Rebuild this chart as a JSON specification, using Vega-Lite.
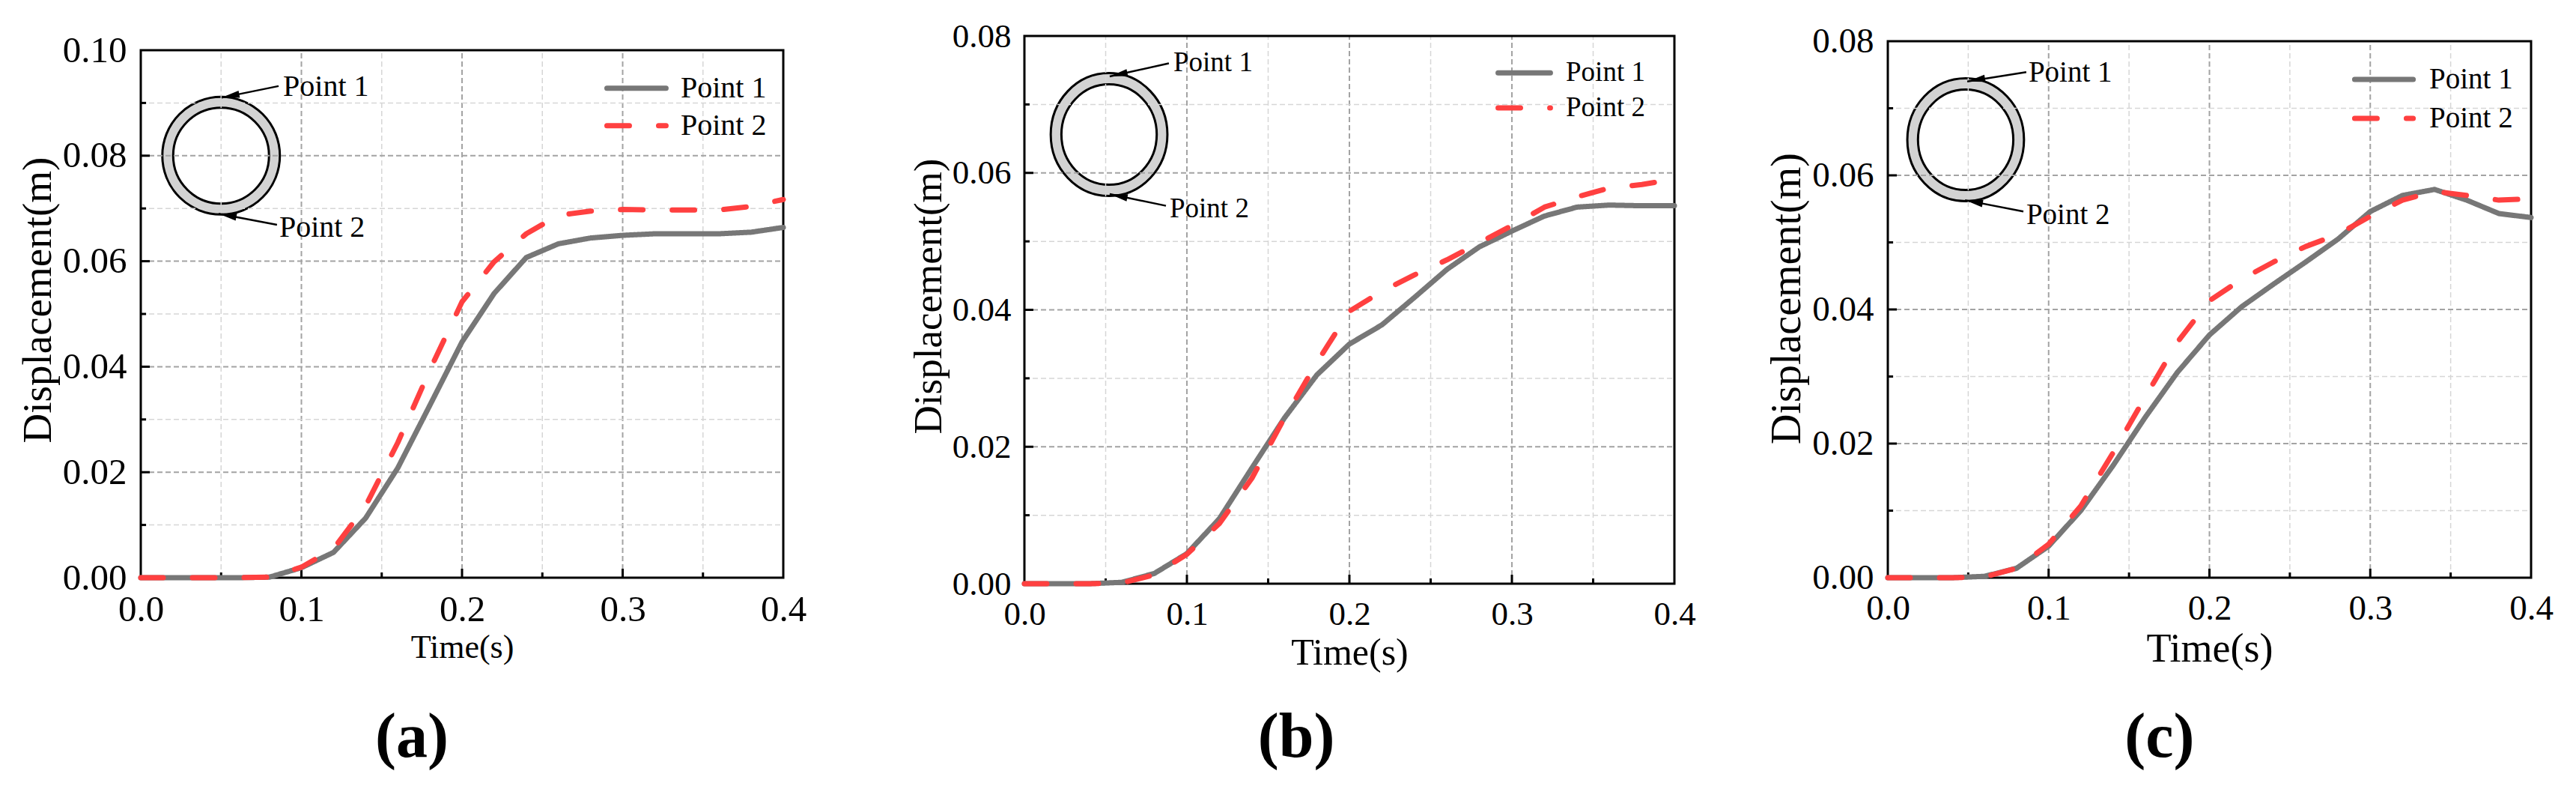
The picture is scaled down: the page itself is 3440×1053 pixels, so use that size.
{
"$schema": "https://vega.github.io/schema/vega-lite/v6.json",
"width": 3440, "height": 1053, "autosize": "none", "padding": 0, "background": "white",
"config": {"view": {"stroke": null}, "font": "Liberation Serif",
 "axis": {"labelColor": "black", "titleColor": "black", "labelFont": "Liberation Serif", "titleFont": "Liberation Serif", "titleFontWeight": "normal", "labelFlush": false, "labelOverlap": false, "domain": false, "ticks": false, "grid": false},
 "text": {"color": "black", "font": "Liberation Serif"}},
"datasets": {
 "xgrid": [{"t":0.05,"kind":"minor"},{"t":0.1,"kind":"major"},{"t":0.15,"kind":"minor"},{"t":0.2,"kind":"major"},{"t":0.25,"kind":"minor"},{"t":0.3,"kind":"major"},{"t":0.35,"kind":"minor"}],
 "ygrid_a": [{"t":0.01,"kind":"minor"},{"t":0.02,"kind":"major"},{"t":0.03,"kind":"minor"},{"t":0.04,"kind":"major"},{"t":0.05,"kind":"minor"},{"t":0.06,"kind":"major"},{"t":0.07,"kind":"minor"},{"t":0.08,"kind":"major"},{"t":0.09,"kind":"minor"}],
 "ygrid_bc": [{"t":0.01,"kind":"minor"},{"t":0.02,"kind":"major"},{"t":0.03,"kind":"minor"},{"t":0.04,"kind":"major"},{"t":0.05,"kind":"minor"},{"t":0.06,"kind":"major"},{"t":0.07,"kind":"minor"}],
 "lines_a": [
  {"t":0,"d":0,"s":"Point 1"},{"t":0.02,"d":0,"s":"Point 1"},{"t":0.04,"d":0,"s":"Point 1"},{"t":0.06,"d":0,"s":"Point 1"},{"t":0.08,"d":0.0001,"s":"Point 1"},{"t":0.1,"d":0.0019,"s":"Point 1"},{"t":0.12,"d":0.0048,"s":"Point 1"},{"t":0.14,"d":0.0113,"s":"Point 1"},{"t":0.16,"d":0.0208,"s":"Point 1"},{"t":0.18,"d":0.0327,"s":"Point 1"},{"t":0.2,"d":0.0447,"s":"Point 1"},{"t":0.22,"d":0.0539,"s":"Point 1"},{"t":0.24,"d":0.0607,"s":"Point 1"},{"t":0.26,"d":0.0633,"s":"Point 1"},{"t":0.28,"d":0.0644,"s":"Point 1"},{"t":0.3,"d":0.0649,"s":"Point 1"},{"t":0.32,"d":0.0652,"s":"Point 1"},{"t":0.34,"d":0.0652,"s":"Point 1"},{"t":0.36,"d":0.0652,"s":"Point 1"},{"t":0.38,"d":0.0655,"s":"Point 1"},{"t":0.4,"d":0.0664,"s":"Point 1"},
  {"t":0,"d":0,"s":"Point 2"},{"t":0.02,"d":0,"s":"Point 2"},{"t":0.04,"d":0,"s":"Point 2"},{"t":0.06,"d":0,"s":"Point 2"},{"t":0.08,"d":0.0001,"s":"Point 2"},{"t":0.1,"d":0.002,"s":"Point 2"},{"t":0.12,"d":0.0055,"s":"Point 2"},{"t":0.14,"d":0.0136,"s":"Point 2"},{"t":0.16,"d":0.0256,"s":"Point 2"},{"t":0.18,"d":0.0394,"s":"Point 2"},{"t":0.2,"d":0.0523,"s":"Point 2"},{"t":0.22,"d":0.0599,"s":"Point 2"},{"t":0.24,"d":0.0652,"s":"Point 2"},{"t":0.26,"d":0.0687,"s":"Point 2"},{"t":0.28,"d":0.0695,"s":"Point 2"},{"t":0.3,"d":0.0698,"s":"Point 2"},{"t":0.32,"d":0.0697,"s":"Point 2"},{"t":0.34,"d":0.0697,"s":"Point 2"},{"t":0.36,"d":0.0697,"s":"Point 2"},{"t":0.38,"d":0.0704,"s":"Point 2"},{"t":0.4,"d":0.0717,"s":"Point 2"}],
 "lines_b": [
  {"t":0,"d":0,"s":"Point 1"},{"t":0.02,"d":0,"s":"Point 1"},{"t":0.04,"d":0,"s":"Point 1"},{"t":0.06,"d":0.0002,"s":"Point 1"},{"t":0.08,"d":0.0015,"s":"Point 1"},{"t":0.1,"d":0.0044,"s":"Point 1"},{"t":0.12,"d":0.0095,"s":"Point 1"},{"t":0.14,"d":0.0169,"s":"Point 1"},{"t":0.16,"d":0.0242,"s":"Point 1"},{"t":0.18,"d":0.0305,"s":"Point 1"},{"t":0.2,"d":0.035,"s":"Point 1"},{"t":0.22,"d":0.0378,"s":"Point 1"},{"t":0.24,"d":0.0418,"s":"Point 1"},{"t":0.26,"d":0.0459,"s":"Point 1"},{"t":0.28,"d":0.0492,"s":"Point 1"},{"t":0.3,"d":0.0515,"s":"Point 1"},{"t":0.32,"d":0.0537,"s":"Point 1"},{"t":0.34,"d":0.055,"s":"Point 1"},{"t":0.36,"d":0.0553,"s":"Point 1"},{"t":0.38,"d":0.0552,"s":"Point 1"},{"t":0.4,"d":0.0552,"s":"Point 1"},
  {"t":0,"d":0,"s":"Point 2"},{"t":0.02,"d":0,"s":"Point 2"},{"t":0.04,"d":0,"s":"Point 2"},{"t":0.06,"d":0.0001,"s":"Point 2"},{"t":0.08,"d":0.0013,"s":"Point 2"},{"t":0.1,"d":0.0043,"s":"Point 2"},{"t":0.12,"d":0.0088,"s":"Point 2"},{"t":0.14,"d":0.0154,"s":"Point 2"},{"t":0.16,"d":0.0242,"s":"Point 2"},{"t":0.18,"d":0.0323,"s":"Point 2"},{"t":0.2,"d":0.0398,"s":"Point 2"},{"t":0.22,"d":0.0427,"s":"Point 2"},{"t":0.24,"d":0.0451,"s":"Point 2"},{"t":0.26,"d":0.0473,"s":"Point 2"},{"t":0.28,"d":0.0498,"s":"Point 2"},{"t":0.3,"d":0.0523,"s":"Point 2"},{"t":0.32,"d":0.055,"s":"Point 2"},{"t":0.34,"d":0.0565,"s":"Point 2"},{"t":0.36,"d":0.0578,"s":"Point 2"},{"t":0.38,"d":0.0583,"s":"Point 2"},{"t":0.4,"d":0.0591,"s":"Point 2"}],
 "lines_c": [
  {"t":0,"d":0,"s":"Point 1"},{"t":0.02,"d":0,"s":"Point 1"},{"t":0.04,"d":0,"s":"Point 1"},{"t":0.06,"d":0.0002,"s":"Point 1"},{"t":0.08,"d":0.0014,"s":"Point 1"},{"t":0.1,"d":0.0047,"s":"Point 1"},{"t":0.12,"d":0.01,"s":"Point 1"},{"t":0.14,"d":0.0167,"s":"Point 1"},{"t":0.16,"d":0.0239,"s":"Point 1"},{"t":0.18,"d":0.0306,"s":"Point 1"},{"t":0.2,"d":0.0362,"s":"Point 1"},{"t":0.22,"d":0.0404,"s":"Point 1"},{"t":0.24,"d":0.0438,"s":"Point 1"},{"t":0.26,"d":0.0471,"s":"Point 1"},{"t":0.28,"d":0.0505,"s":"Point 1"},{"t":0.3,"d":0.0546,"s":"Point 1"},{"t":0.32,"d":0.057,"s":"Point 1"},{"t":0.34,"d":0.0579,"s":"Point 1"},{"t":0.36,"d":0.0563,"s":"Point 1"},{"t":0.38,"d":0.0543,"s":"Point 1"},{"t":0.4,"d":0.0537,"s":"Point 1"},
  {"t":0,"d":0,"s":"Point 2"},{"t":0.02,"d":0,"s":"Point 2"},{"t":0.04,"d":0,"s":"Point 2"},{"t":0.06,"d":0.0001,"s":"Point 2"},{"t":0.08,"d":0.0014,"s":"Point 2"},{"t":0.1,"d":0.005,"s":"Point 2"},{"t":0.12,"d":0.0107,"s":"Point 2"},{"t":0.14,"d":0.0186,"s":"Point 2"},{"t":0.16,"d":0.0269,"s":"Point 2"},{"t":0.18,"d":0.0351,"s":"Point 2"},{"t":0.2,"d":0.0413,"s":"Point 2"},{"t":0.22,"d":0.0445,"s":"Point 2"},{"t":0.24,"d":0.0471,"s":"Point 2"},{"t":0.26,"d":0.0494,"s":"Point 2"},{"t":0.28,"d":0.0512,"s":"Point 2"},{"t":0.3,"d":0.0539,"s":"Point 2"},{"t":0.32,"d":0.0563,"s":"Point 2"},{"t":0.34,"d":0.0576,"s":"Point 2"},{"t":0.36,"d":0.057,"s":"Point 2"},{"t":0.38,"d":0.0563,"s":"Point 2"},{"t":0.4,"d":0.0565,"s":"Point 2"}]
},
"layer": [
 {"data": {"values": [{"t":0.05,"d":0.08}]}, "mark": {"type":"point","shape":"circle","size":24649,"filled":true,"fill":"#d3d3d3","stroke":"black","strokeWidth":3,"opacity":1},
  "encoding": {"x": {"field":"t","type":"quantitative","scale":{"domain":[0,0.4],"range":[188,1046],"nice":false,"zero":false},"axis":null},
   "y": {"field":"d","type":"quantitative","scale":{"domain":[0,0.1],"range":[771,67],"nice":false,"zero":false},"axis":null}}},
 {"data": {"values": [{"t":0.05,"d":0.08}]}, "mark": {"type":"point","shape":"circle","size":16384,"filled":true,"fill":"white","stroke":"black","strokeWidth":3,"opacity":1},
  "encoding": {"x": {"field":"t","type":"quantitative","scale":{"domain":[0,0.4],"range":[188,1046],"nice":false,"zero":false},"axis":null},
   "y": {"field":"d","type":"quantitative","scale":{"domain":[0,0.1],"range":[771,67],"nice":false,"zero":false},"axis":null}}},
 {"data": {"name": "xgrid"}, "mark": {"type":"rule","strokeDash":[7,4]},
  "encoding": {"x": {"field":"t","type":"quantitative","scale":{"domain":[0,0.4],"range":[188,1046],"nice":false,"zero":false},"axis":null},
   "y": {"datum":0,"type":"quantitative","scale":{"domain":[0,0.1],"range":[771,67],"nice":false,"zero":false},"axis":null},
   "y2": {"datum":0.1},
   "color": {"condition":{"test":"datum.kind==='major'","value":"#a3a3a3"},"value":"#d6d6d6"},
   "strokeWidth": {"condition":{"test":"datum.kind==='major'","value":2},"value":1.5}}},
 {"data": {"name": "ygrid_a"}, "mark": {"type":"rule","strokeDash":[7,4]},
  "encoding": {"y": {"field":"t","type":"quantitative","scale":{"domain":[0,0.1],"range":[771,67],"nice":false,"zero":false},"axis":null},
   "x": {"datum":0,"type":"quantitative","scale":{"domain":[0,0.4],"range":[188,1046],"nice":false,"zero":false},"axis":null},
   "x2": {"datum":0.4},
   "color": {"condition":{"test":"datum.kind==='major'","value":"#a3a3a3"},"value":"#d6d6d6"},
   "strokeWidth": {"condition":{"test":"datum.kind==='major'","value":2},"value":1.5}}},
 {"data": {"values": [{}]}, "mark": {"type":"rect","fill":"white","fillOpacity":0,"stroke":"black","strokeWidth":3},
  "encoding": {"x": {"datum":0,"type":"quantitative","scale":{"domain":[0,0.4],"range":[188,1046],"nice":false,"zero":false},"axis":null},
   "x2": {"datum":0.4},
   "y": {"datum":0,"type":"quantitative","scale":{"domain":[0,0.1],"range":[771,67],"nice":false,"zero":false},"axis":null},
   "y2": {"datum":0.1}}},
 {"data": {"name": "xgrid"}, "transform": [{"filter":"datum.kind==='major'"}], "mark": {"type":"rule","color":"black","strokeWidth":3},
  "encoding": {"x": {"field":"t","type":"quantitative","scale":{"domain":[0,0.4],"range":[188,1046],"nice":false,"zero":false},"axis":null},
   "y": {"datum":0,"type":"quantitative","scale":{"domain":[0,0.1],"range":[771,67],"nice":false,"zero":false},"axis":null},
   "y2": {"datum":0.0017}}},
 {"data": {"name": "xgrid"}, "transform": [{"filter":"datum.kind==='minor'"}], "mark": {"type":"rule","color":"black","strokeWidth":3},
  "encoding": {"x": {"field":"t","type":"quantitative","scale":{"domain":[0,0.4],"range":[188,1046],"nice":false,"zero":false},"axis":null},
   "y": {"datum":0,"type":"quantitative","scale":{"domain":[0,0.1],"range":[771,67],"nice":false,"zero":false},"axis":null},
   "y2": {"datum":0.001}}},
 {"data": {"name": "ygrid_a"}, "transform": [{"filter":"datum.kind==='major'"}], "mark": {"type":"rule","color":"black","strokeWidth":3},
  "encoding": {"y": {"field":"t","type":"quantitative","scale":{"domain":[0,0.1],"range":[771,67],"nice":false,"zero":false},"axis":null},
   "x": {"datum":0,"type":"quantitative","scale":{"domain":[0,0.4],"range":[188,1046],"nice":false,"zero":false},"axis":null},
   "x2": {"datum":0.0056}}},
 {"data": {"name": "ygrid_a"}, "transform": [{"filter":"datum.kind==='minor'"}], "mark": {"type":"rule","color":"black","strokeWidth":3},
  "encoding": {"y": {"field":"t","type":"quantitative","scale":{"domain":[0,0.1],"range":[771,67],"nice":false,"zero":false},"axis":null},
   "x": {"datum":0,"type":"quantitative","scale":{"domain":[0,0.4],"range":[188,1046],"nice":false,"zero":false},"axis":null},
   "x2": {"datum":0.0033}}},
 {"data": {"name": "lines_a"}, "mark": {"type":"line","strokeWidth":7,"strokeCap":"round","strokeJoin":"round"},
  "encoding": {"x": {"field":"t","type":"quantitative","scale":{"domain":[0,0.4],"range":[188,1046],"nice":false,"zero":false},
     "axis":{"orient":"bottom","offset":-282,"values":[0,0.1,0.2,0.3,0.4],"format":".1f","labelFontSize":49,"labelPadding":18,"title":"Time(s)","titleFontSize":44,"titlePadding":4}},
   "y": {"field":"d","type":"quantitative","scale":{"domain":[0,0.1],"range":[771,67],"nice":false,"zero":false},
     "axis":{"orient":"left","offset":-188,"values":[0,0.02,0.04,0.06,0.08,0.1],"format":".2f","labelFontSize":49,"labelPadding":19,"title":"Displacement(m)","titleFontSize":55,"titlePadding":4,"titleY":400}},
   "color": {"field":"s","type":"nominal","scale":{"domain":["Point 1","Point 2"],"range":["#777777","#ff4040"]},"legend":null},
   "strokeDash": {"field":"s","type":"nominal","scale":{"domain":["Point 1","Point 2"],"range":[[1,0],[30,39]]},"legend":null}}},
 {"data": {"values": [{"t":0.2902,"d":0.0928,"s":"Point 1"},{"t":0.327,"d":0.0928,"s":"Point 1"},{"t":0.2902,"d":0.0857,"s":"Point 2"},{"t":0.327,"d":0.0857,"s":"Point 2"}]},
  "mark": {"type":"line","strokeWidth":7,"strokeCap":"round"},
  "encoding": {"x": {"field":"t","type":"quantitative","scale":{"domain":[0,0.4],"range":[188,1046],"nice":false,"zero":false},"axis":null},
   "y": {"field":"d","type":"quantitative","scale":{"domain":[0,0.1],"range":[771,67],"nice":false,"zero":false},"axis":null},
   "color": {"field":"s","type":"nominal","scale":{"domain":["Point 1","Point 2"],"range":["#777777","#ff4040"]},"legend":null},
   "strokeDash": {"field":"s","type":"nominal","scale":{"domain":["Point 1","Point 2"],"range":[[1,0],[30,39]]},"legend":null}}},
 {"data": {"values": [{"t":0.3361,"d":0.0928,"label":"Point 1"},{"t":0.3361,"d":0.0857,"label":"Point 2"},{"t":0.0886,"d":0.093,"label":"Point 1"},{"t":0.0862,"d":0.0663,"label":"Point 2"}]},
  "mark": {"type":"text","align":"left","baseline":"middle","fontSize":40,"color":"black"},
  "encoding": {"x": {"field":"t","type":"quantitative","scale":{"domain":[0,0.4],"range":[188,1046],"nice":false,"zero":false},"axis":null},
   "y": {"field":"d","type":"quantitative","scale":{"domain":[0,0.1],"range":[771,67],"nice":false,"zero":false},"axis":null},
   "text": {"field":"label"}}},
 {"data": {"values": [{"t":0.0858,"d":0.0932,"g":"1"},{"t":0.0503,"d":0.091,"g":"1"},{"t":0.0848,"d":0.0669,"g":"2"},{"t":0.0485,"d":0.069,"g":"2"}]},
  "mark": {"type":"line","color":"black","strokeWidth":2.5},
  "encoding": {"x": {"field":"t","type":"quantitative","scale":{"domain":[0,0.4],"range":[188,1046],"nice":false,"zero":false},"axis":null},
   "y": {"field":"d","type":"quantitative","scale":{"domain":[0,0.1],"range":[771,67],"nice":false,"zero":false},"axis":null},
   "detail": {"field":"g"}}},
 {"data": {"values": [{"t":0.0503,"d":0.091,"g":"1"},{"t":0.0485,"d":0.069,"g":"2"}]},
  "mark": {"type":"point","shape":"M 0 0 L 2 -0.4 L 2 0.4 Z","size":576,"filled":true,"color":"black","opacity":1},
  "encoding": {"x": {"field":"t","type":"quantitative","scale":{"domain":[0,0.4],"range":[188,1046],"nice":false,"zero":false},"axis":null},
   "y": {"field":"d","type":"quantitative","scale":{"domain":[0,0.1],"range":[771,67],"nice":false,"zero":false},"axis":null},
   "angle": {"condition":{"test":"datum.g==='1'","value":-11},"value":11}}},
 {"data": {"values": [{"t":0.1688,"d":-0.0304,"label":"(a)"}]},
  "mark": {"type":"text","align":"center","baseline":"middle","fontSize":84,"fontWeight":"bold","color":"black"},
  "encoding": {"x": {"field":"t","type":"quantitative","scale":{"domain":[0,0.4],"range":[188,1046],"nice":false,"zero":false},"axis":null},
   "y": {"field":"d","type":"quantitative","scale":{"domain":[0,0.1],"range":[771,67],"nice":false,"zero":false},"axis":null},
   "text": {"field":"label"}}},

 {"data": {"values": [{"t":0.0521,"d":0.0656}]}, "mark": {"type":"point","shape":"M -0.95 0 A 0.95 1 0 1 0 0.95 0 A 0.95 1 0 1 0 -0.95 0 Z","size":26896,"filled":true,"fill":"#d3d3d3","stroke":"black","strokeWidth":3,"opacity":1},
  "encoding": {"x": {"field":"t","type":"quantitative","scale":{"domain":[0,0.4],"range":[1368,2236],"nice":false,"zero":false},"axis":null},
   "y": {"field":"d","type":"quantitative","scale":{"domain":[0,0.08],"range":[779,48],"nice":false,"zero":false},"axis":null}}},
 {"data": {"values": [{"t":0.0521,"d":0.0656}]}, "mark": {"type":"point","shape":"M -0.95 0 A 0.95 1 0 1 0 0.95 0 A 0.95 1 0 1 0 -0.95 0 Z","size":17956,"filled":true,"fill":"white","stroke":"black","strokeWidth":3,"opacity":1},
  "encoding": {"x": {"field":"t","type":"quantitative","scale":{"domain":[0,0.4],"range":[1368,2236],"nice":false,"zero":false},"axis":null},
   "y": {"field":"d","type":"quantitative","scale":{"domain":[0,0.08],"range":[779,48],"nice":false,"zero":false},"axis":null}}},
 {"data": {"name": "xgrid"}, "mark": {"type":"rule","strokeDash":[7,4]},
  "encoding": {"x": {"field":"t","type":"quantitative","scale":{"domain":[0,0.4],"range":[1368,2236],"nice":false,"zero":false},"axis":null},
   "y": {"datum":0,"type":"quantitative","scale":{"domain":[0,0.08],"range":[779,48],"nice":false,"zero":false},"axis":null},
   "y2": {"datum":0.08},
   "color": {"condition":{"test":"datum.kind==='major'","value":"#a3a3a3"},"value":"#d6d6d6"},
   "strokeWidth": {"condition":{"test":"datum.kind==='major'","value":2},"value":1.5}}},
 {"data": {"name": "ygrid_bc"}, "mark": {"type":"rule","strokeDash":[7,4]},
  "encoding": {"y": {"field":"t","type":"quantitative","scale":{"domain":[0,0.08],"range":[779,48],"nice":false,"zero":false},"axis":null},
   "x": {"datum":0,"type":"quantitative","scale":{"domain":[0,0.4],"range":[1368,2236],"nice":false,"zero":false},"axis":null},
   "x2": {"datum":0.4},
   "color": {"condition":{"test":"datum.kind==='major'","value":"#a3a3a3"},"value":"#d6d6d6"},
   "strokeWidth": {"condition":{"test":"datum.kind==='major'","value":2},"value":1.5}}},
 {"data": {"values": [{}]}, "mark": {"type":"rect","fill":"white","fillOpacity":0,"stroke":"black","strokeWidth":3},
  "encoding": {"x": {"datum":0,"type":"quantitative","scale":{"domain":[0,0.4],"range":[1368,2236],"nice":false,"zero":false},"axis":null},
   "x2": {"datum":0.4},
   "y": {"datum":0,"type":"quantitative","scale":{"domain":[0,0.08],"range":[779,48],"nice":false,"zero":false},"axis":null},
   "y2": {"datum":0.08}}},
 {"data": {"name": "xgrid"}, "transform": [{"filter":"datum.kind==='major'"}], "mark": {"type":"rule","color":"black","strokeWidth":3},
  "encoding": {"x": {"field":"t","type":"quantitative","scale":{"domain":[0,0.4],"range":[1368,2236],"nice":false,"zero":false},"axis":null},
   "y": {"datum":0,"type":"quantitative","scale":{"domain":[0,0.08],"range":[779,48],"nice":false,"zero":false},"axis":null},
   "y2": {"datum":0.00131}}},
 {"data": {"name": "xgrid"}, "transform": [{"filter":"datum.kind==='minor'"}], "mark": {"type":"rule","color":"black","strokeWidth":3},
  "encoding": {"x": {"field":"t","type":"quantitative","scale":{"domain":[0,0.4],"range":[1368,2236],"nice":false,"zero":false},"axis":null},
   "y": {"datum":0,"type":"quantitative","scale":{"domain":[0,0.08],"range":[779,48],"nice":false,"zero":false},"axis":null},
   "y2": {"datum":0.00077}}},
 {"data": {"name": "ygrid_bc"}, "transform": [{"filter":"datum.kind==='major'"}], "mark": {"type":"rule","color":"black","strokeWidth":3},
  "encoding": {"y": {"field":"t","type":"quantitative","scale":{"domain":[0,0.08],"range":[779,48],"nice":false,"zero":false},"axis":null},
   "x": {"datum":0,"type":"quantitative","scale":{"domain":[0,0.4],"range":[1368,2236],"nice":false,"zero":false},"axis":null},
   "x2": {"datum":0.0055}}},
 {"data": {"name": "ygrid_bc"}, "transform": [{"filter":"datum.kind==='minor'"}], "mark": {"type":"rule","color":"black","strokeWidth":3},
  "encoding": {"y": {"field":"t","type":"quantitative","scale":{"domain":[0,0.08],"range":[779,48],"nice":false,"zero":false},"axis":null},
   "x": {"datum":0,"type":"quantitative","scale":{"domain":[0,0.4],"range":[1368,2236],"nice":false,"zero":false},"axis":null},
   "x2": {"datum":0.0032}}},
 {"data": {"name": "lines_b"}, "mark": {"type":"line","strokeWidth":7,"strokeCap":"round","strokeJoin":"round"},
  "encoding": {"x": {"field":"t","type":"quantitative","scale":{"domain":[0,0.4],"range":[1368,2236],"nice":false,"zero":false},
     "axis":{"orient":"bottom","offset":-274,"values":[0,0.1,0.2,0.3,0.4],"format":".1f","labelFontSize":45,"labelPadding":18,"title":"Time(s)","titleFontSize":50,"titlePadding":4}},
   "y": {"field":"d","type":"quantitative","scale":{"domain":[0,0.08],"range":[779,48],"nice":false,"zero":false},
     "axis":{"orient":"left","offset":-1368,"values":[0,0.02,0.04,0.06,0.08],"format":".2f","labelFontSize":45,"labelPadding":18,"title":"Displacement(m)","titleFontSize":53,"titlePadding":4,"titleY":395}},
   "color": {"field":"s","type":"nominal","scale":{"domain":["Point 1","Point 2"],"range":["#777777","#ff4040"]},"legend":null},
   "strokeDash": {"field":"s","type":"nominal","scale":{"domain":["Point 1","Point 2"],"range":[[1,0],[30,39]]},"legend":null}}},
 {"data": {"values": [{"t":0.2915,"d":0.0746,"s":"Point 1"},{"t":0.3237,"d":0.0746,"s":"Point 1"},{"t":0.2915,"d":0.0695,"s":"Point 2"},{"t":0.3237,"d":0.0695,"s":"Point 2"}]},
  "mark": {"type":"line","strokeWidth":7,"strokeCap":"round"},
  "encoding": {"x": {"field":"t","type":"quantitative","scale":{"domain":[0,0.4],"range":[1368,2236],"nice":false,"zero":false},"axis":null},
   "y": {"field":"d","type":"quantitative","scale":{"domain":[0,0.08],"range":[779,48],"nice":false,"zero":false},"axis":null},
   "color": {"field":"s","type":"nominal","scale":{"domain":["Point 1","Point 2"],"range":["#777777","#ff4040"]},"legend":null},
   "strokeDash": {"field":"s","type":"nominal","scale":{"domain":["Point 1","Point 2"],"range":[[1,0],[30,39]]},"legend":null}}},
 {"data": {"values": [{"t":0.3332,"d":0.0746,"label":"Point 1"},{"t":0.3332,"d":0.0695,"label":"Point 2"},{"t":0.0917,"d":0.0761,"label":"Point 1"},{"t":0.0894,"d":0.0547,"label":"Point 2"}]},
  "mark": {"type":"text","align":"left","baseline":"middle","fontSize":37,"color":"black"},
  "encoding": {"x": {"field":"t","type":"quantitative","scale":{"domain":[0,0.4],"range":[1368,2236],"nice":false,"zero":false},"axis":null},
   "y": {"field":"d","type":"quantitative","scale":{"domain":[0,0.08],"range":[779,48],"nice":false,"zero":false},"axis":null},
   "text": {"field":"label"}}},
 {"data": {"values": [{"t":0.0889,"d":0.076,"g":"1"},{"t":0.0525,"d":0.0741,"g":"1"},{"t":0.0871,"d":0.0552,"g":"2"},{"t":0.0525,"d":0.0569,"g":"2"}]},
  "mark": {"type":"line","color":"black","strokeWidth":2.5},
  "encoding": {"x": {"field":"t","type":"quantitative","scale":{"domain":[0,0.4],"range":[1368,2236],"nice":false,"zero":false},"axis":null},
   "y": {"field":"d","type":"quantitative","scale":{"domain":[0,0.08],"range":[779,48],"nice":false,"zero":false},"axis":null},
   "detail": {"field":"g"}}},
 {"data": {"values": [{"t":0.0525,"d":0.0741,"g":"1"},{"t":0.0525,"d":0.0569,"g":"2"}]},
  "mark": {"type":"point","shape":"M 0 0 L 2 -0.4 L 2 0.4 Z","size":576,"filled":true,"color":"black","opacity":1},
  "encoding": {"x": {"field":"t","type":"quantitative","scale":{"domain":[0,0.4],"range":[1368,2236],"nice":false,"zero":false},"axis":null},
   "y": {"field":"d","type":"quantitative","scale":{"domain":[0,0.08],"range":[779,48],"nice":false,"zero":false},"axis":null},
   "angle": {"condition":{"test":"datum.g==='1'","value":-12},"value":12}}},
 {"data": {"values": [{"t":0.1673,"d":-0.02254,"label":"(b)"}]},
  "mark": {"type":"text","align":"center","baseline":"middle","fontSize":84,"fontWeight":"bold","color":"black"},
  "encoding": {"x": {"field":"t","type":"quantitative","scale":{"domain":[0,0.4],"range":[1368,2236],"nice":false,"zero":false},"axis":null},
   "y": {"field":"d","type":"quantitative","scale":{"domain":[0,0.08],"range":[779,48],"nice":false,"zero":false},"axis":null},
   "text": {"field":"label"}}},

 {"data": {"values": [{"t":0.0484,"d":0.0653}]}, "mark": {"type":"point","shape":"M -0.95 0 A 0.95 1 0 1 0 0.95 0 A 0.95 1 0 1 0 -0.95 0 Z","size":26896,"filled":true,"fill":"#d3d3d3","stroke":"black","strokeWidth":3,"opacity":1},
  "encoding": {"x": {"field":"t","type":"quantitative","scale":{"domain":[0,0.4],"range":[2521,3380],"nice":false,"zero":false},"axis":null},
   "y": {"field":"d","type":"quantitative","scale":{"domain":[0,0.08],"range":[771,55],"nice":false,"zero":false},"axis":null}}},
 {"data": {"values": [{"t":0.0484,"d":0.0653}]}, "mark": {"type":"point","shape":"M -0.95 0 A 0.95 1 0 1 0 0.95 0 A 0.95 1 0 1 0 -0.95 0 Z","size":17956,"filled":true,"fill":"white","stroke":"black","strokeWidth":3,"opacity":1},
  "encoding": {"x": {"field":"t","type":"quantitative","scale":{"domain":[0,0.4],"range":[2521,3380],"nice":false,"zero":false},"axis":null},
   "y": {"field":"d","type":"quantitative","scale":{"domain":[0,0.08],"range":[771,55],"nice":false,"zero":false},"axis":null}}},
 {"data": {"name": "xgrid"}, "mark": {"type":"rule","strokeDash":[7,4]},
  "encoding": {"x": {"field":"t","type":"quantitative","scale":{"domain":[0,0.4],"range":[2521,3380],"nice":false,"zero":false},"axis":null},
   "y": {"datum":0,"type":"quantitative","scale":{"domain":[0,0.08],"range":[771,55],"nice":false,"zero":false},"axis":null},
   "y2": {"datum":0.08},
   "color": {"condition":{"test":"datum.kind==='major'","value":"#a3a3a3"},"value":"#d6d6d6"},
   "strokeWidth": {"condition":{"test":"datum.kind==='major'","value":2},"value":1.5}}},
 {"data": {"name": "ygrid_bc"}, "mark": {"type":"rule","strokeDash":[7,4]},
  "encoding": {"y": {"field":"t","type":"quantitative","scale":{"domain":[0,0.08],"range":[771,55],"nice":false,"zero":false},"axis":null},
   "x": {"datum":0,"type":"quantitative","scale":{"domain":[0,0.4],"range":[2521,3380],"nice":false,"zero":false},"axis":null},
   "x2": {"datum":0.4},
   "color": {"condition":{"test":"datum.kind==='major'","value":"#a3a3a3"},"value":"#d6d6d6"},
   "strokeWidth": {"condition":{"test":"datum.kind==='major'","value":2},"value":1.5}}},
 {"data": {"values": [{}]}, "mark": {"type":"rect","fill":"white","fillOpacity":0,"stroke":"black","strokeWidth":3},
  "encoding": {"x": {"datum":0,"type":"quantitative","scale":{"domain":[0,0.4],"range":[2521,3380],"nice":false,"zero":false},"axis":null},
   "x2": {"datum":0.4},
   "y": {"datum":0,"type":"quantitative","scale":{"domain":[0,0.08],"range":[771,55],"nice":false,"zero":false},"axis":null},
   "y2": {"datum":0.08}}},
 {"data": {"name": "xgrid"}, "transform": [{"filter":"datum.kind==='major'"}], "mark": {"type":"rule","color":"black","strokeWidth":3},
  "encoding": {"x": {"field":"t","type":"quantitative","scale":{"domain":[0,0.4],"range":[2521,3380],"nice":false,"zero":false},"axis":null},
   "y": {"datum":0,"type":"quantitative","scale":{"domain":[0,0.08],"range":[771,55],"nice":false,"zero":false},"axis":null},
   "y2": {"datum":0.00134}}},
 {"data": {"name": "xgrid"}, "transform": [{"filter":"datum.kind==='minor'"}], "mark": {"type":"rule","color":"black","strokeWidth":3},
  "encoding": {"x": {"field":"t","type":"quantitative","scale":{"domain":[0,0.4],"range":[2521,3380],"nice":false,"zero":false},"axis":null},
   "y": {"datum":0,"type":"quantitative","scale":{"domain":[0,0.08],"range":[771,55],"nice":false,"zero":false},"axis":null},
   "y2": {"datum":0.00078}}},
 {"data": {"name": "ygrid_bc"}, "transform": [{"filter":"datum.kind==='major'"}], "mark": {"type":"rule","color":"black","strokeWidth":3},
  "encoding": {"y": {"field":"t","type":"quantitative","scale":{"domain":[0,0.08],"range":[771,55],"nice":false,"zero":false},"axis":null},
   "x": {"datum":0,"type":"quantitative","scale":{"domain":[0,0.4],"range":[2521,3380],"nice":false,"zero":false},"axis":null},
   "x2": {"datum":0.0056}}},
 {"data": {"name": "ygrid_bc"}, "transform": [{"filter":"datum.kind==='minor'"}], "mark": {"type":"rule","color":"black","strokeWidth":3},
  "encoding": {"y": {"field":"t","type":"quantitative","scale":{"domain":[0,0.08],"range":[771,55],"nice":false,"zero":false},"axis":null},
   "x": {"datum":0,"type":"quantitative","scale":{"domain":[0,0.4],"range":[2521,3380],"nice":false,"zero":false},"axis":null},
   "x2": {"datum":0.0033}}},
 {"data": {"name": "lines_c"}, "mark": {"type":"line","strokeWidth":7,"strokeCap":"round","strokeJoin":"round"},
  "encoding": {"x": {"field":"t","type":"quantitative","scale":{"domain":[0,0.4],"range":[2521,3380],"nice":false,"zero":false},
     "axis":{"orient":"bottom","offset":-282,"values":[0,0.1,0.2,0.3,0.4],"format":".1f","labelFontSize":47,"labelPadding":18,"title":"Time(s)","titleFontSize":54,"titlePadding":4}},
   "y": {"field":"d","type":"quantitative","scale":{"domain":[0,0.08],"range":[771,55],"nice":false,"zero":false},
     "axis":{"orient":"left","offset":-2521,"values":[0,0.02,0.04,0.06,0.08],"format":".2f","labelFontSize":47,"labelPadding":19,"title":"Displacement(m)","titleFontSize":56,"titlePadding":4,"titleY":398}},
   "color": {"field":"s","type":"nominal","scale":{"domain":["Point 1","Point 2"],"range":["#777777","#ff4040"]},"legend":null},
   "strokeDash": {"field":"s","type":"nominal","scale":{"domain":["Point 1","Point 2"],"range":[[1,0],[30,39]]},"legend":null}}},
 {"data": {"values": [{"t":0.2903,"d":0.0743,"s":"Point 1"},{"t":0.3267,"d":0.0743,"s":"Point 1"},{"t":0.2903,"d":0.0685,"s":"Point 2"},{"t":0.3267,"d":0.0685,"s":"Point 2"}]},
  "mark": {"type":"line","strokeWidth":7,"strokeCap":"round"},
  "encoding": {"x": {"field":"t","type":"quantitative","scale":{"domain":[0,0.4],"range":[2521,3380],"nice":false,"zero":false},"axis":null},
   "y": {"field":"d","type":"quantitative","scale":{"domain":[0,0.08],"range":[771,55],"nice":false,"zero":false},"axis":null},
   "color": {"field":"s","type":"nominal","scale":{"domain":["Point 1","Point 2"],"range":["#777777","#ff4040"]},"legend":null},
   "strokeDash": {"field":"s","type":"nominal","scale":{"domain":["Point 1","Point 2"],"range":[[1,0],[30,39]]},"legend":null}}},
 {"data": {"values": [{"t":0.3367,"d":0.0743,"label":"Point 1"},{"t":0.3367,"d":0.0685,"label":"Point 2"},{"t":0.0875,"d":0.0753,"label":"Point 1"},{"t":0.0861,"d":0.0541,"label":"Point 2"}]},
  "mark": {"type":"text","align":"left","baseline":"middle","fontSize":39,"color":"black"},
  "encoding": {"x": {"field":"t","type":"quantitative","scale":{"domain":[0,0.4],"range":[2521,3380],"nice":false,"zero":false},"axis":null},
   "y": {"field":"d","type":"quantitative","scale":{"domain":[0,0.08],"range":[771,55],"nice":false,"zero":false},"axis":null},
   "text": {"field":"label"}}},
 {"data": {"values": [{"t":0.0861,"d":0.0754,"g":"1"},{"t":0.0494,"d":0.074,"g":"1"},{"t":0.0843,"d":0.0546,"g":"2"},{"t":0.048,"d":0.0563,"g":"2"}]},
  "mark": {"type":"line","color":"black","strokeWidth":2.5},
  "encoding": {"x": {"field":"t","type":"quantitative","scale":{"domain":[0,0.4],"range":[2521,3380],"nice":false,"zero":false},"axis":null},
   "y": {"field":"d","type":"quantitative","scale":{"domain":[0,0.08],"range":[771,55],"nice":false,"zero":false},"axis":null},
   "detail": {"field":"g"}}},
 {"data": {"values": [{"t":0.0494,"d":0.074,"g":"1"},{"t":0.048,"d":0.0563,"g":"2"}]},
  "mark": {"type":"point","shape":"M 0 0 L 2 -0.4 L 2 0.4 Z","size":576,"filled":true,"color":"black","opacity":1},
  "encoding": {"x": {"field":"t","type":"quantitative","scale":{"domain":[0,0.4],"range":[2521,3380],"nice":false,"zero":false},"axis":null},
   "y": {"field":"d","type":"quantitative","scale":{"domain":[0,0.08],"range":[771,55],"nice":false,"zero":false},"axis":null},
   "angle": {"condition":{"test":"datum.g==='1'","value":-10},"value":11}}},
 {"data": {"values": [{"t":0.169,"d":-0.0239,"label":"(c)"}]},
  "mark": {"type":"text","align":"center","baseline":"middle","fontSize":84,"fontWeight":"bold","color":"black"},
  "encoding": {"x": {"field":"t","type":"quantitative","scale":{"domain":[0,0.4],"range":[2521,3380],"nice":false,"zero":false},"axis":null},
   "y": {"field":"d","type":"quantitative","scale":{"domain":[0,0.08],"range":[771,55],"nice":false,"zero":false},"axis":null},
   "text": {"field":"label"}}}
],
"resolve": {"scale": {"x": "independent", "y": "independent"}}
}
